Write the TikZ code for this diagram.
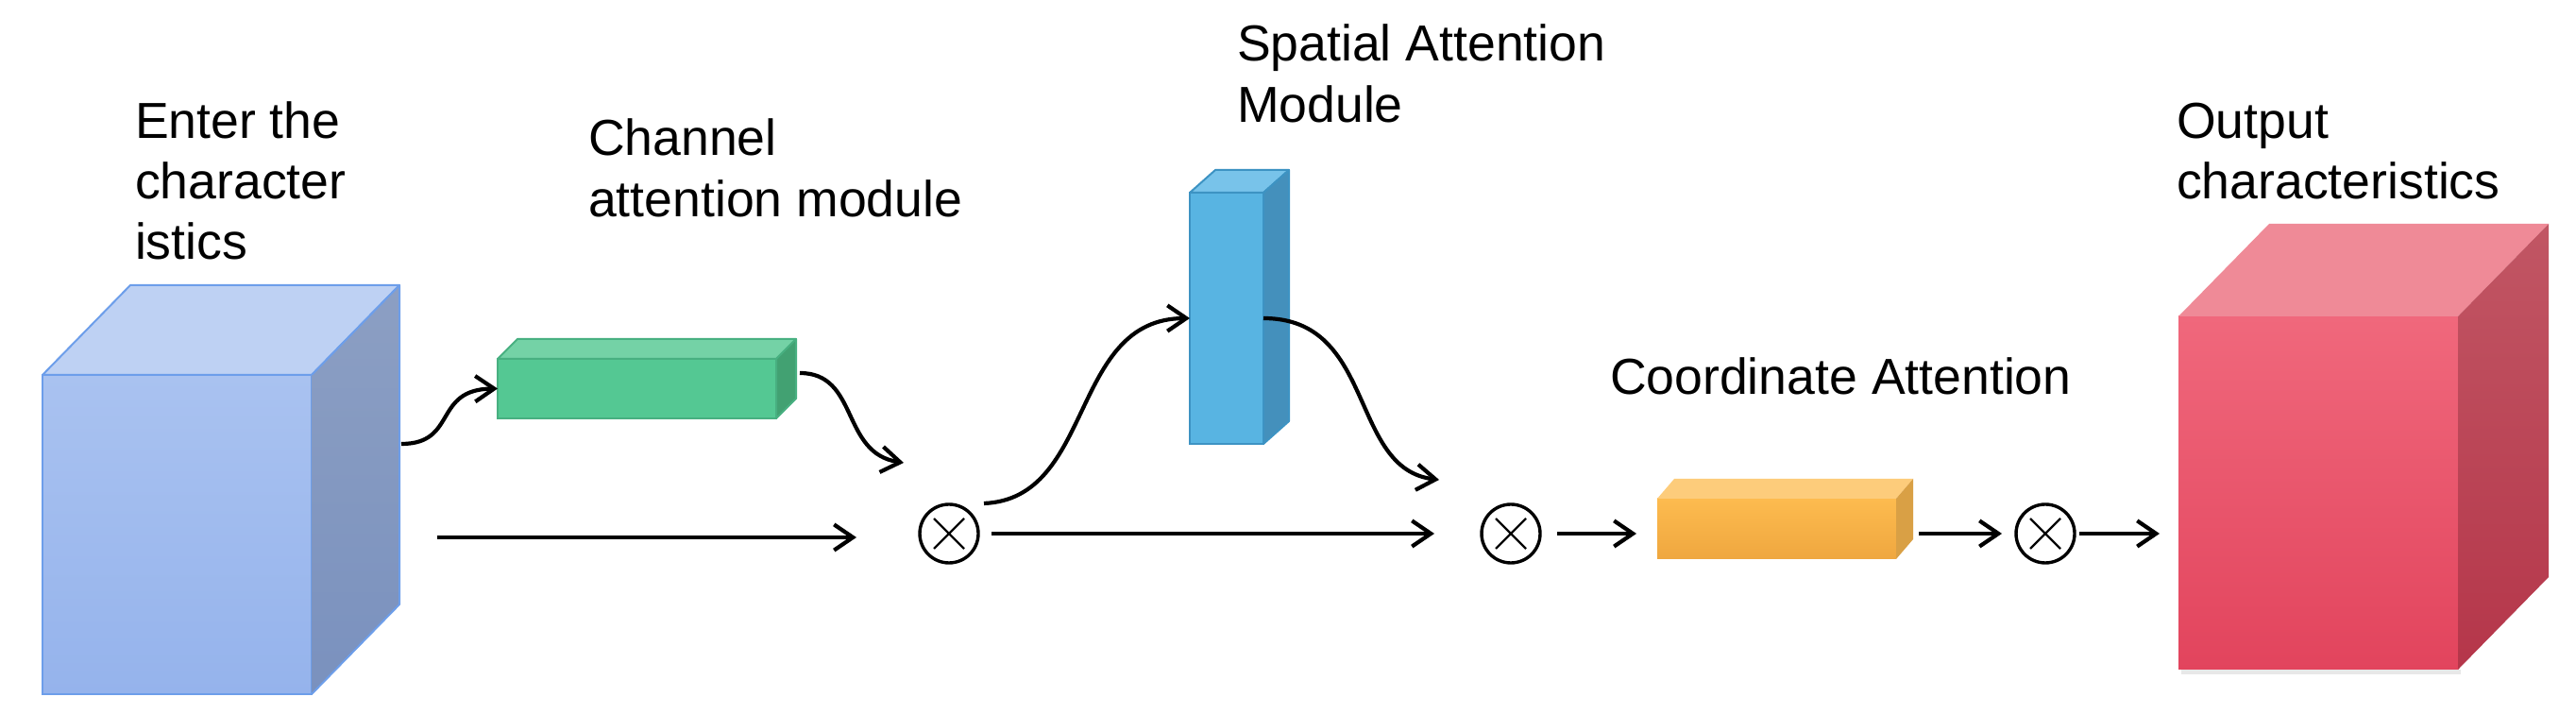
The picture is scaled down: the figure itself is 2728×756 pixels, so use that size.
\documentclass[tikz,border=0pt]{standalone}
\usepackage{fontspec}
\setmainfont{Liberation Sans}
\usetikzlibrary{arrows.meta}
\definecolor{bluefrontA}{HTML}{A9C2F0}
\definecolor{bluefrontB}{HTML}{95B3EC}
\definecolor{bluetop}{HTML}{BED1F3}
\definecolor{bluesideA}{HTML}{8C9FC3}
\definecolor{bluesideB}{HTML}{7A91BE}
\definecolor{bluestroke}{HTML}{6D9EEA}
\definecolor{grnfront}{HTML}{54C893}
\definecolor{grntop}{HTML}{74D2A6}
\definecolor{grnside}{HTML}{42A172}
\definecolor{grnstroke}{HTML}{48B081}
\definecolor{skyfront}{HTML}{58B4E2}
\definecolor{skytop}{HTML}{78C3EA}
\definecolor{skyside}{HTML}{4490BC}
\definecolor{skystroke}{HTML}{3D93C3}
\definecolor{orfrontA}{HTML}{FDBB4F}
\definecolor{orfrontB}{HTML}{EFA73F}
\definecolor{ortop}{HTML}{FDCC7B}
\definecolor{orside}{HTML}{D9A045}
\definecolor{redfrontA}{HTML}{F0687C}
\definecolor{redfrontB}{HTML}{E2445D}
\definecolor{redtop}{HTML}{EF8A97}
\definecolor{redsideA}{HTML}{C15664}
\definecolor{redsideB}{HTML}{B5364A}
\begin{document}
\begin{tikzpicture}[x=0.25pt,y=-0.25pt,
  lbl/.style={anchor=base west, inner sep=0pt, outer sep=0pt, font=\fontsize{13.4pt}{16pt}\selectfont},
  face/.style={anchor=north west, inner sep=0pt, outer sep=0pt, rectangle},
  conn/.style={line width=1.05pt, -{Straight Barb[length=5pt,width=6.8pt,line width=1.05pt]}},
  opnode/.style={circle, draw, line width=0.85pt, minimum size=15.5pt, inner sep=0pt, outer sep=0pt},
  crossline/.style={line width=0.6pt}
]
\useasboundingbox (0,0) rectangle (2728,756);

% ---------- input cube ----------
\node[face, draw=bluestroke, line width=0.5pt, top color=bluefrontA, bottom color=bluefrontB,
      minimum width=71.25pt, minimum height=84.5pt] (inp) at (45,397) {};
\filldraw[draw=bluestroke, line width=0.5pt, fill=bluetop, line join=round]
  (inp.north west) -- ++(93,-95) -- ++(285,0) -- (inp.north east) -- cycle;
\shade[top color=bluesideA, bottom color=bluesideB]
  (inp.north east) -- ++(93,-95) -- ++(0,338) -- (inp.south east) -- cycle;
\draw[bluestroke, line width=0.5pt, line join=round]
  (inp.north east) -- ++(93,-95) -- ++(0,338) -- (inp.south east);

% ---------- channel attention bar ----------
\node[face, draw=grnstroke, line width=0.5pt, fill=grnfront,
      minimum width=73.75pt, minimum height=15.75pt] (grn) at (527,380) {};
\filldraw[draw=grnstroke, line width=0.5pt, fill=grntop, line join=round]
  (grn.north west) -- ++(21,-21) -- ++(295,0) -- (grn.north east) -- cycle;
\filldraw[draw=grnstroke, line width=0.5pt, fill=grnside, line join=round]
  (grn.north east) -- ++(21,-21) -- ++(0,63) -- (grn.south east) -- cycle;

% ---------- spatial attention bar ----------
\node[face, draw=skystroke, line width=0.5pt, fill=skyfront,
      minimum width=19.5pt, minimum height=66.5pt] (sp) at (1260,204) {};
\filldraw[draw=skystroke, line width=0.5pt, fill=skytop, line join=round]
  (sp.north west) -- ++(27,-24) -- ++(78,0) -- (sp.north east) -- cycle;
\filldraw[draw=skystroke, line width=0.5pt, fill=skyside, line join=round]
  (sp.north east) -- ++(27,-24) -- ++(0,266) -- (sp.south east) -- cycle;

% ---------- coordinate attention bar ----------
\node[face, top color=orfrontA, bottom color=orfrontB,
      minimum width=63.25pt, minimum height=16pt] (ca) at (1755,528) {};
\fill[ortop] (ca.north west) -- ++(18,-21) -- ++(253,0) -- (ca.north east) -- cycle;
\fill[orside] (ca.north east) -- ++(18,-21) -- ++(0,64) -- (ca.south east) -- cycle;

% ---------- output cube ----------
\fill[black!9] (2310,709) rectangle (2606,714);
\node[face, top color=redfrontA, bottom color=redfrontB,
      minimum width=74pt, minimum height=93.5pt] (out) at (2307,335) {};
\fill[redtop] (out.north west) -- ++(96,-98) -- ++(296,0) -- (out.north east) -- cycle;
\shade[top color=redsideA, bottom color=redsideB]
  (out.north east) -- ++(96,-98) -- ++(0,374) -- (out.south east) -- cycle;

% ---------- multiplication nodes ----------
\node[opnode] (m1) at (1005,565) {};
\node[opnode] (m2) at (1600,565) {};
\node[opnode] (m3) at (2166,565) {};
\foreach \m in {m1,m2,m3}{
  \draw[crossline] (\m.center) +(-16,-16) -- +(16,16);
  \draw[crossline] (\m.center) +(-16,16) -- +(16,-16);
}

% ---------- labels ----------
\node[lbl] (t1a) at (143,147) {Enter the};
\node[lbl] (t1b) at (143,211) {character};
\node[lbl] (t1c) at (143,275) {istics};
\node[lbl] (t2a) at (623,165) {Channel};
\node[lbl] (t2b) at (623,230) {attention module};
\node[lbl] (t3a) at (1310,65) {Spatial Attention};
\node[lbl] (t3b) at (1310,130) {Module};
\node[lbl] (t4) at (1705,418) {Coordinate Attention};
\node[lbl] (t5a) at (2305,147) {Output};
\node[lbl] (t5b) at (2305,211) {characteristics};

% ---------- connector end points ----------
\coordinate (inpout) at (425,470);
\coordinate (grnout) at (847,395);
\coordinate (m1curve) at (957,490);
\coordinate (skipA) at (463,569);
\coordinate (skipB) at (907,569);
\coordinate (m1out) at (1042,533);
\coordinate (m2curve) at (1524,508);
\coordinate (m2in) at (1519,565);

% ---------- connectors ----------
\draw[conn] (inpout) .. controls (485,470) and (458,412) .. (grn.west);
\draw[conn] (grnout) .. controls (910,395) and (890,480) .. (m1curve);
\draw[conn] (skipA) -- (skipB);
\draw[conn] (m1out) .. controls (1160,528) and (1132,337) .. (sp.west);
\draw[conn] (sp.east) .. controls (1458,337) and (1428,497) .. (m2curve);
\draw[conn, shorten <=3.5pt] (m1.east) -- (m2in);
\draw[conn, shorten <=4.5pt, shorten >=5.5pt] (m2.east) -- (ca.west |- m2.east);
\draw[conn, shorten <=6pt, shorten >=3.75pt] (ca.east |- m3.west) -- (m3.west);
\draw[conn, shorten <=1.25pt, shorten >=5pt] (m3.east) -- (out.west |- m3.east);
\end{tikzpicture}
\end{document}
